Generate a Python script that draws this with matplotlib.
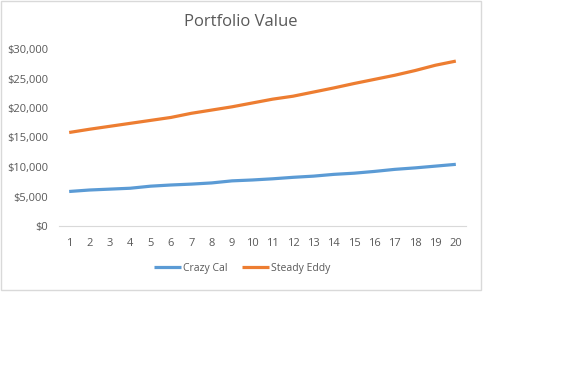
import matplotlib.pyplot as plt
from matplotlib.patches import Rectangle
from matplotlib.ticker import FuncFormatter

plt.rcParams['font.family'] = ['Open Sans', 'DejaVu Sans']

years = list(range(1, 21))
crazy_cal = [5850, 6100, 6250, 6400, 6750, 6950, 7100, 7300, 7650, 7800,
             8000, 8250, 8450, 8750, 8950, 9250, 9600, 9850, 10150, 10450]
steady_eddy = [15850, 16400, 16900, 17400, 17900, 18400, 19100, 19650, 20200, 20850,
               21500, 22000, 22700, 23400, 24150, 24850, 25550, 26350, 27250, 27950]

blue = '#5B9BD5'
orange = '#ED7D31'
txt = '#595959'

fig = plt.figure(figsize=(5.78, 3.65), dpi=100)
# chart frame like the Excel chart area
fig.patches.append(Rectangle((0.5 / 578, 1 - 290 / 365), 480 / 578, 289.5 / 365,
                             transform=fig.transFigure, fill=False,
                             edgecolor='#d9d9d9', linewidth=1))

ax = fig.add_axes([59 / 578, 1 - 226 / 365, 407 / 578, 177 / 365])
ax.plot(years, crazy_cal, color=blue, lw=2.3, label='Crazy Cal', solid_capstyle='butt')
ax.plot(years, steady_eddy, color=orange, lw=2.3, label='Steady Eddy', solid_capstyle='butt')

ax.set_xlim(0.5, 20.5)
ax.set_ylim(0, 30000)
ax.set_yticks(range(0, 30001, 5000))
ax.set_xticks(years)
ax.yaxis.set_major_formatter(FuncFormatter(lambda v, p: '${:,.0f}'.format(v)))

for s in ['top', 'right', 'left']:
    ax.spines[s].set_visible(False)
ax.spines['bottom'].set_color('#d9d9d9')
ax.tick_params(axis='both', length=0, colors=txt, labelsize=8)
ax.tick_params(axis='x', pad=9)
ax.tick_params(axis='y', pad=8)

fig.text(241 / 578, 1 - 22 / 365, 'Portfolio Value', ha='center', va='center',
         fontsize=12, color=txt)

fig.legend(loc='center', bbox_to_anchor=(242 / 578, 1 - 268 / 365), ncol=2,
           frameon=False, fontsize=7.5, labelcolor=txt, handlelength=2.6,
           handletextpad=0.2, columnspacing=1.4)

fig.savefig('out.png', dpi=100)
